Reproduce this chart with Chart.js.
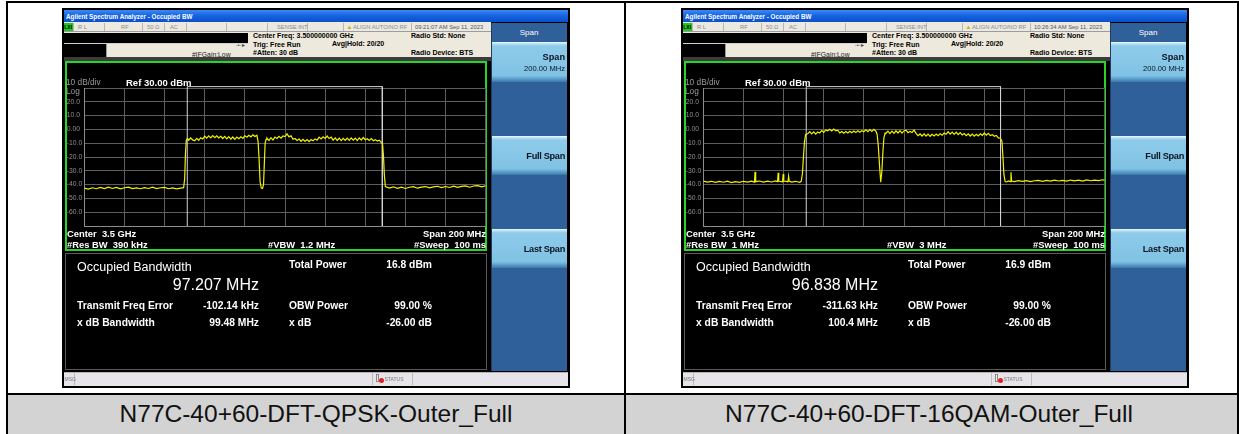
<!DOCTYPE html>
<html><head><meta charset="utf-8">
<script src="https://cdn.jsdelivr.net/npm/chart.js@4.4.1/dist/chart.umd.min.js"></script>
<style>
html,body{margin:0;padding:0;background:#fff;}
body{width:1239px;height:434px;overflow:hidden;position:relative;font-family:"Liberation Sans",Arial,sans-serif;}
div{box-sizing:border-box;}
</style></head><body>
<script>
// ---------------- DATA ----------------
const yTickLabels = ['', '-60.0', '-50.0', '-40.0', '-30.0', '-20.0', '-10.0', '0.00', '10.0', '20.0', ''];

const qpskFreq = [3400,3402,3404,3406,3408,3410,3412,3414,3416,3418,3420,3422,3424,3426,3428,3430,3432,3434,3436,3438,3440,3442,3444,3446,3448,3449.5,
 3450.0,3450.4,3450.8,3451.4,
 3452,3453,3454,3455,3456,3457,3458,3459,3460,3461,3462,3463,3464,3465,3466,3467,3468,3469,3470,3471,3472,3473,3474,3475,3476,3477,3478,3479,3480,3481,3482,3483,3484,3485,3486,
 3486.6,3487.1,3487.6,3488.2,3488.8,3489.3,3489.7,3490.1,3490.6,
 3491,3492,3493,3494,3495,3496,3497,3498,3499,3500,3501,3502,3503,3504,3505,3506,3507,3508,3509,3510,3511,3512,3513,3514,3515,3516,3517,3518,3519,3520,3521,3522,3523,3524,3525,3526,3527,3528,3529,3530,3531,3532,3533,3534,3535,3536,3537,3538,3539,3540,3541,3542,3543,3544,3545,3546,3547,3548,
 3548.6,3549.1,3549.5,3550,
 3552,3554,3556,3558,3560,3562,3564,3566,3568,3570,3572,3574,3576,3578,3580,3582,3584,3586,3588,3590,3592,3594,3596,3598,3600];
const qpskLevel = [-42.6,-43.2,-42.3,-43.0,-42.1,-42.9,-41.9,-42.8,-42.0,-43.1,-42.3,-41.8,-42.9,-42.4,-43.0,-42.2,-42.8,-41.9,-42.9,-42.3,-42.0,-43.0,-42.4,-43.1,-42.6,-42.2,
 -36,-18,-8,-6.5,
 -7.8,-6.2,-7.6,-8.3,-6.5,-7.9,-6.0,-6.9,-4.9,-6.4,-4.7,-6.1,-4.5,-6.0,-4.6,-6.2,-5.0,-6.6,-5.1,-6.9,-5.3,-7.1,-5.5,-7.2,-5.6,-6.8,-5.4,-6.5,-4.6,-5.6,-4.3,-5.4,-4.0,-5.2,-4.3,
 -9,-22,-38,-42.5,-42.8,-40,-25,-10,-7.2,
 -6.2,-8.1,-6.0,-7.7,-5.6,-6.6,-5.0,-6.3,-4.8,-5.2,-3.2,-5.4,-4.6,-7.2,-6.6,-8.0,-7.0,-8.6,-7.2,-8.7,-7.4,-8.8,-7.3,-8.2,-6.9,-7.8,-5.6,-6.9,-5.4,-6.5,-4.8,-6.6,-5.6,-7.8,-6.2,-8.0,-6.3,-8.1,-6.5,-8.0,-6.3,-7.9,-6.1,-7.8,-6.4,-8.1,-6.2,-7.7,-5.9,-7.5,-6.8,-8.0,-6.7,-8.2,-7.4,-8.4,-7.8,-9.6,
 -10.5,-20,-33,-41.5,
 -42.5,-41.6,-42.7,-41.9,-42.8,-41.9,-41.5,-42.6,-41.8,-41.4,-42.4,-41.6,-41.2,-42.2,-41.4,-42.1,-41.1,-42.0,-41.3,-40.9,-41.9,-41.0,-40.7,-41.6,-40.8];

const qamFreq = [3400,3402,3404,3406,3408,3410,3412,3414,3416,3418,3420,3422,3424,3425.5,3425.8,3426.1,3428,3430,3432,3434,3436,3437,3437.3,3437.6,3439.5,3439.8,3440.1,3442.2,3442.5,3442.8,3444,3446,3448,3448.8,
 3449.4,3449.9,3450.4,3451,
 3452,3453,3454,3455,3456,3457,3458,3459,3460,3461,3462,3463,3464,3465,3466,3467,3468,3469,3470,3471,3472,3473,3474,3475,3476,3477,3478,3479,3480,3481,3482,3483,3484,3485,3486,
 3486.6,3487.2,3487.8,3488.4,3489,3489.5,3490,3490.6,
 3491,3492,3493,3494,3495,3496,3497,3498,3499,3500,3501,3502,3503,3504,3505,3506,3507,3508,3509,3510,3511,3512,3513,3514,3515,3516,3517,3518,3519,3520,3521,3522,3523,3524,3525,3526,3527,3528,3529,3530,3531,3532,3533,3534,3535,3536,3537,3538,3539,3540,3541,3542,3543,3544,3545,3546,3547,3548,
 3548.8,3549.3,3549.8,3550.4,
 3551.2,3552,3553.0,3553.3,3553.6,3555,3557,3559,3561,3563,3565,3567,3569,3571,3573,3575,3577,3579,3581,3583,3585,3587,3589,3591,3593,3595,3597,3599,3600];
const qamLevel = [-37.5,-38.2,-37.6,-38.4,-37.7,-38.3,-37.5,-38.5,-37.8,-38.4,-37.6,-38.2,-37.5,-38.2,-30.8,-37.9,-37.4,-38.2,-37.5,-38.1,-37.3,-37.8,-31.4,-37.6,-38.0,-32.4,-37.4,-37.9,-34.0,-37.5,-38.2,-37.6,-38.3,-37.6,
 -32,-20,-9,-3.6,
 -3.2,-1.6,-3.3,-1.8,-3.4,-1.9,-2.6,-0.9,-2.2,-0.4,-1.0,0.1,-1.1,0.2,-1.0,-0.6,-2.6,-1.6,-2.8,-1.5,-2.6,-1.3,-2.4,-1.2,-2.3,-1.0,-2.1,-0.9,-1.7,-0.3,-1.6,-0.1,-1.4,0.0,-1.3,
 -3.5,-12,-26,-38.3,-30,-16,-6,-2.6,
 -2.8,-1.2,-3.0,-1.3,-2.9,-1.0,-2.6,-0.9,-2.7,-1.1,-0.6,-2.4,-1.5,-2.2,-0.5,-2.9,-4.6,-3.3,-4.8,-3.2,-4.9,-3.4,-5.0,-3.6,-4.7,-3.3,-4.6,-3.1,-4.2,-2.6,-3.5,-1.7,-3.4,-1.9,-3.6,-2.0,-3.8,-2.3,-4.0,-3.0,-4.6,-3.2,-4.8,-3.4,-4.9,-3.5,-4.7,-3.2,-4.3,-2.6,-4.2,-2.8,-4.5,-3.8,-5.0,-4.4,-6.2,-6.4,
 -8.5,-20,-33,-37.8,
 -38.1,-37.4,-37.8,-31.0,-37.4,-37.9,-37.2,-37.7,-37.1,-37.8,-37.2,-36.9,-37.6,-37.0,-37.5,-36.8,-37.4,-36.9,-37.5,-36.7,-37.3,-36.8,-37.4,-36.6,-37.2,-36.7,-37.1,-36.5,-36.9];

// OBW marker edges (MHz) and bracket top level (dBm)
const qpskObwEdges = [3451.3, 3548.5];
const qamObwEdges = [3451.3, 3548.1];
const obwBracketTop = 31;

// ---------------- HELPERS ----------------
const FONT = '"Liberation Sans", Arial, sans-serif';
function box(x, y, w, h, css) {
  const d = document.createElement('div');
  d.style.cssText = `position:absolute;left:${x}px;top:${y}px;width:${w}px;height:${h}px;${css || ''}`;
  document.body.appendChild(d);
  return d;
}
function txt(x, cy, s, o = {}) {
  const size = o.size || 7, lh = Math.ceil(size * 1.3);
  const d = document.createElement('div');
  let css = `position:absolute;top:${cy - lh / 2}px;height:${lh}px;line-height:${lh}px;font-size:${size}px;white-space:pre;` +
    `color:${o.color || '#000'};font-weight:${o.bold ? 'bold' : 'normal'};font-family:${FONT};`;
  if (o.align === 'right') css += `left:${x - 400}px;width:400px;text-align:right;`;
  else if (o.align === 'center') css += `left:${x - 300}px;width:600px;text-align:center;`;
  else css += `left:${x}px;`;
  if (o.extra) css += o.extra;
  d.style.cssText = css;
  d.textContent = s;
  document.body.appendChild(d);
  return d;
}

// ---------------- PANELS ----------------
const panels = [
  { dx: 0, time: '09:21:07 AM Sep 11, 2023', rbw: '#Res BW  390 kHz', vbw: '#VBW  1.2 MHz', obw: '97.207 MHz',
    tp: '16.8 dBm', tfe: '-102.14 kHz', xbw: '99.48 MHz', freq: qpskFreq, level: qpskLevel, edges: qpskObwEdges },
  { dx: 619, time: '10:26:34 AM Sep 11, 2023', rbw: '#Res BW  1 MHz', vbw: '#VBW  3 MHz', obw: '96.838 MHz',
    tp: '16.9 dBm', tfe: '-311.63 kHz', xbw: '100.4 MHz', freq: qamFreq, level: qamLevel, edges: qamObwEdges }
];

function buildPanel(p) {
  const dx = p.dx;
  box(62 + dx, 8, 508, 380, 'background:#000');
  // title bar
  box(63.5 + dx, 9.5, 504, 12.5, 'background:linear-gradient(#3d8af5,#1664e2 45%,#0b50c9)');
  txt(66 + dx, 16, 'Agilent Spectrum Analyzer - Occupied BW', { size: 6.3, bold: true, color: '#fff' });
  // status row
  box(63.5 + dx, 22, 427, 10, 'background:#ece9e2;border-bottom:1px solid #9c9c9c');
  [73, 104, 142, 164, 186, 226, 267, 307, 343, 411].forEach(x => box(x + dx, 22.5, 1, 8.5, 'background:#b9b6ae'));
  box(63.5 + dx, 23, 9, 8, 'background:#22c422');
  txt(64.3 + dx, 27, 'LXI', { size: 5, bold: true, color: '#000' });
  const g = '#8a8a8a';
  txt(78 + dx, 27, 'R L', { size: 5.8, color: g });
  txt(121 + dx, 27, 'RF', { size: 5.8, color: g });
  txt(147 + dx, 27, '50 Ω', { size: 5.8, color: g });
  txt(170 + dx, 27, 'AC', { size: 5.8, color: g });
  txt(277 + dx, 27, 'SENSE:INT', { size: 5.8, color: g });
  txt(346.5 + dx, 26.6, '▲', { size: 6, color: '#d8a800' });
  txt(353 + dx, 27, 'ALIGN AUTO/NO RF', { size: 5.8, color: g });
  txt(415 + dx, 27, p.time, { size: 5.8, color: '#555' });
  // header
  box(63.5 + dx, 32, 427, 26, 'background:#eee9dd');
  box(63.5 + dx, 33, 184, 9.5, 'background:#000');
  box(63.5 + dx, 42.5, 184, 1.5, 'background:#d0d0d0');
  box(63.5 + dx, 44, 42.5, 13, 'background:#000');
  box(106 + dx, 44, 1, 13, 'background:#9a9a9a');
  box(63.5 + dx, 57, 427, 3.5, 'background:#3c3c3c');
  txt(253 + dx, 36, 'Center Freq: 3.500000000 GHz', { size: 7, bold: true });
  txt(253 + dx, 44.5, 'Trig: Free Run', { size: 7, bold: true });
  txt(253 + dx, 53, '#Atten: 30 dB', { size: 7, bold: true });
  txt(332 + dx, 44, 'Avg|Hold: 20/20', { size: 7, bold: true });
  txt(411 + dx, 36, 'Radio Std: None', { size: 7, bold: true });
  txt(411 + dx, 53, 'Radio Device: BTS', { size: 7, bold: true });
  txt(192 + dx, 54.3, '#IFGain:Low', { size: 6.8, color: '#222' });
  txt(236 + dx, 45.5, '-•-►', { size: 5, color: '#444' });
  // green frame + chart
  box(65 + dx, 61, 422, 190, 'border:2px solid #28d428;background:#000');
  const cv = document.createElement('canvas');
  cv.width = 422; cv.height = 190;
  cv.style.cssText = `position:absolute;left:${65 + dx}px;top:61px;width:422px;height:190px;`;
  document.body.appendChild(cv);
  const e = p.edges;
  new Chart(cv, {
    type: 'line',
    data: {
      datasets: [
        { data: p.freq.map((f, i) => ({ x: f, y: p.level[i] })), borderColor: '#f2f200', borderWidth: 1.2,
          pointRadius: 0, tension: 0, order: 1 },
        { data: [{ x: e[0], y: -70 }, { x: e[0], y: obwBracketTop }, { x: e[1], y: obwBracketTop }, { x: e[1], y: -70 }],
          borderColor: '#d4d4d4', borderWidth: 1, pointRadius: 0, tension: 0, clip: false, order: 2 }
      ]
    },
    options: {
      animation: false, responsive: false, devicePixelRatio: 1,
      plugins: { legend: { display: false }, tooltip: { enabled: false } },
      layout: { padding: { left: 1.8, right: 1.3, top: 27, bottom: 25 } },
      scales: {
        x: { type: 'linear', min: 3400, max: 3600,
             ticks: { display: false, stepSize: 20 },
             grid: { color: '#5e5e5e', drawTicks: false },
             border: { display: true, color: '#8c8c8c' },
             afterFit(s) { s.height = 0; } },
        y: { type: 'linear', min: -70, max: 30,
             ticks: { stepSize: 10, color: '#909090', font: { size: 6.8, family: FONT }, crossAlign: 'far', padding: 0,
                      callback: (v, i) => yTickLabels[i] },
             grid: { color: '#5e5e5e', drawTicks: false },
             border: { display: true, color: '#8c8c8c' },
             afterFit(s) { s.width = 17.5; } }
      }
    }
  });
  txt(66 + dx, 82, '10 dB/div', { size: 8.3, color: '#9a9a9a' });
  txt(66 + dx, 91, 'Log', { size: 8.3, color: '#9a9a9a' });
  txt(126 + dx, 82, 'Ref 30.00 dBm', { size: 9.5, bold: true, color: '#fff' });
  txt(67 + dx, 233, 'Center  3.5 GHz', { size: 9.4, bold: true, color: '#fff' });
  txt(67 + dx, 244, p.rbw, { size: 9.4, bold: true, color: '#fff' });
  txt(268 + dx, 244, p.vbw, { size: 9.4, bold: true, color: '#fff' });
  txt(486 + dx, 233, 'Span 200 MHz', { size: 9.4, bold: true, color: '#fff', align: 'right' });
  txt(486 + dx, 244, '#Sweep  100 ms', { size: 9.4, bold: true, color: '#fff', align: 'right' });
  // data panel
  box(65 + dx, 253, 422, 117, 'border:1px solid #5a5a5a;background:#000');
  const w = '#fff';
  txt(77 + dx, 267, 'Occupied Bandwidth', { size: 12.5, color: w });
  txt(259 + dx, 284, p.obw, { size: 16, color: w, align: 'right' });
  txt(289 + dx, 265, 'Total Power', { size: 10.3, bold: true, color: w });
  txt(432 + dx, 265, p.tp, { size: 10.3, bold: true, color: w, align: 'right' });
  txt(77 + dx, 306, 'Transmit Freq Error', { size: 10.3, bold: true, color: w });
  txt(259 + dx, 306, p.tfe, { size: 10.3, bold: true, color: w, align: 'right' });
  txt(289 + dx, 306, 'OBW Power', { size: 10.3, bold: true, color: w });
  txt(432 + dx, 306, '99.00 %', { size: 10.3, bold: true, color: w, align: 'right' });
  txt(77 + dx, 322.7, 'x dB Bandwidth', { size: 10.3, bold: true, color: w });
  txt(259 + dx, 322.7, p.xbw, { size: 10.3, bold: true, color: w, align: 'right' });
  txt(289 + dx, 322.7, 'x dB', { size: 10.3, bold: true, color: w });
  txt(432 + dx, 322.7, '-26.00 dB', { size: 10.3, bold: true, color: w, align: 'right' });
  // status bar
  box(63.5 + dx, 371.5, 504, 14, 'background:#e6e4e8;border-top:1px solid #b4b4b4');
  box(74 + dx, 372.5, 1, 12, 'background:#bdbdbd');
  box(372 + dx, 372.5, 1, 12, 'background:#bdbdbd');
  box(412 + dx, 372.5, 1, 12, 'background:#bdbdbd');
  txt(64.5 + dx, 379, 'MSG', { size: 5, color: '#777' });
  box(376 + dx, 374, 3, 8, 'border:1px solid #888;background:#eee');
  box(378.5 + dx, 378, 5, 5, 'background:#e02020;border-radius:50%');
  txt(384.5 + dx, 379, 'STATUS', { size: 5, color: '#777' });
  // softkey panel
  box(491 + dx, 23, 76, 348, 'background:#30609a;border-left:1px solid #203e62');
  txt(529 + dx, 32, 'Span', { size: 8, color: '#fff', align: 'center' });
  const btn = 'background:linear-gradient(#eef8fd 0,#b3def2 2px,#8ecbea 4px,#80c2e4 84%,#5c9ecb 92%,#3a78a6 100%)';
  box(492 + dx, 42, 74.5, 40, btn);
  box(492 + dx, 136, 74.5, 39, btn);
  box(492 + dx, 229, 74.5, 39, btn);
  txt(565 + dx, 57, 'Span', { size: 9.2, bold: true, color: '#0c1420', align: 'right' });
  txt(565 + dx, 69, '200.00 MHz', { size: 7.6, color: '#0c1420', align: 'right' });
  txt(565 + dx, 156, 'Full Span', { size: 9.2, bold: true, color: '#0c1420', align: 'right', extra: 'letter-spacing:-0.3px;' });
  txt(565 + dx, 248.5, 'Last Span', { size: 9.2, bold: true, color: '#0c1420', align: 'right', extra: 'letter-spacing:-0.3px;' });
}

// ---------------- TABLE ----------------
box(8, 395, 1229, 39, 'background:#d3d3d3');
panels.forEach(buildPanel);
box(6, 1, 1233, 2, 'background:#000');
box(6, 1, 2, 433, 'background:#000');
box(1237, 1, 2, 433, 'background:#000');
box(624, 1, 2, 433, 'background:#000');
box(6, 392.5, 1233, 2.5, 'background:#000');
txt(316, 414, 'N77C-40+60-DFT-QPSK-Outer_Full', { size: 24.5, color: '#111', align: 'center' });
txt(929, 414, 'N77C-40+60-DFT-16QAM-Outer_Full', { size: 24.5, color: '#111', align: 'center' });
</script>
</body></html>
